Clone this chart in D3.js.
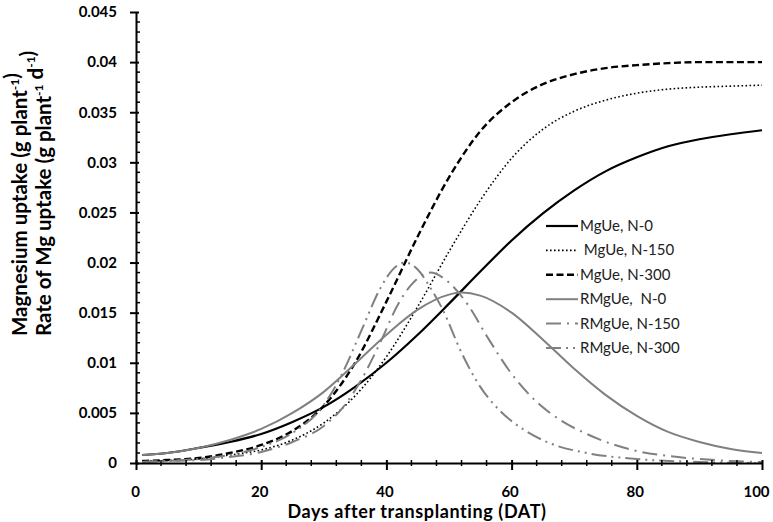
<!DOCTYPE html>
<html>
<head>
<meta charset="utf-8">
<script src="https://cdn.jsdelivr.net/npm/d3@7"></script>
<style>
  html, body { margin: 0; padding: 0; background: #fff; }
  svg { display: block; }
  text { font-family: Lato, "Open Sans", "Liberation Sans", sans-serif; }
</style>
</head>
<body>
<svg id="chart" width="773" height="522"></svg>
<script>
// Days after transplanting at which each curve is sampled
const daysUptake = [1, 5, 10, 15, 20, 25, 30, 35, 40, 45, 50, 55, 60, 65, 70, 75, 80, 85, 90, 95, 100];

// Cumulative Mg uptake (g plant-1)
const mgueN0   = [0.0008, 0.0010, 0.0015, 0.0021, 0.0029, 0.0041, 0.0056, 0.0076, 0.0100, 0.0128, 0.0159, 0.0191, 0.0222, 0.0249, 0.0272, 0.0291, 0.0305, 0.0316, 0.0323, 0.0328, 0.0332];
const mgueN150 = [0.0002, 0.00025, 0.0004, 0.0008, 0.0013, 0.0023, 0.0040, 0.0067, 0.0106, 0.0156, 0.0211, 0.0262, 0.0304, 0.0333, 0.0351, 0.0362, 0.0369, 0.0373, 0.0375, 0.0376, 0.0377];
const mgueN300 = [0.0002, 0.0003, 0.0005, 0.0010, 0.0018, 0.0032, 0.0057, 0.0100, 0.0161, 0.0226, 0.0285, 0.0331, 0.0360, 0.0378, 0.0388, 0.0394, 0.0397, 0.0399, 0.0400, 0.0400, 0.0400];

// Rate of Mg uptake (g plant-1 d-1)
const daysRateN0   = [1, 5, 10, 15, 20, 25, 30, 35, 40, 45, 50, 52, 55, 60, 65, 70, 75, 80, 85, 90, 95, 100];
const rmgueN0      = [0.0008, 0.0010, 0.0015, 0.0023, 0.0034, 0.0050, 0.0071, 0.0099, 0.0128, 0.0153, 0.0168, 0.0170, 0.0167, 0.0150, 0.0123, 0.0094, 0.0068, 0.0047, 0.0031, 0.0021, 0.0014, 0.0010];
const daysRateN150 = [1, 5, 10, 15, 20, 25, 30, 33, 36, 39, 42, 44, 47, 50, 53, 56, 60, 64, 68, 72, 76, 80, 85, 90, 95, 100];
const rmgueN150    = [0.0001, 0.0002, 0.0003, 0.0006, 0.0011, 0.0021, 0.0037, 0.0055, 0.0083, 0.0120, 0.0160, 0.0178, 0.0190, 0.0180, 0.0158, 0.0127, 0.0089, 0.0061, 0.0042, 0.0029, 0.0019, 0.0012, 0.0007, 0.0004, 0.0002, 0.0001];
const daysRateN300 = [1, 5, 10, 15, 20, 25, 30, 33, 36, 39, 41, 43, 45, 47, 49, 52, 55, 58, 62, 66, 72, 80, 90, 100];
const rmgueN300    = [0.0001, 0.0002, 0.0004, 0.0008, 0.0016, 0.0030, 0.0058, 0.0090, 0.0132, 0.0174, 0.0193, 0.0200, 0.0193, 0.0175, 0.0153, 0.0110, 0.0076, 0.0053, 0.0033, 0.0020, 0.0010, 0.0004, 0.0001, 0.0000];

// Axis ticks
const xTicks = [0, 20, 40, 60, 80, 100];
const yTicks = [0, 0.005, 0.01, 0.015, 0.02, 0.025, 0.03, 0.035, 0.04, 0.045];
const yTickLabels = ["0", "0.005", "0.01", "0.015", "0.02", "0.025", "0.03", "0.035", "0.04", "0.045"];

const seriesNames = ["MgUe, N-0", " MgUe, N-150", "MgUe, N-300", "RMgUe,  N-0", "RMgUe, N-150", "RMgUe, N-300"];

const svg = d3.select("#chart");
const x = d3.scaleLinear().domain([0, 100]).range([136, 762]);
const y = d3.scaleLinear().domain([0, 0.045]).range([463, 12]);

const gray = "#808080";
const series = [
  { name: seriesNames[0], days: daysUptake,   vals: mgueN0,   color: "#000", width: 2.2, dash: null },
  { name: seriesNames[1], days: daysUptake,   vals: mgueN150, color: "#000", width: 1.6, dash: "1.6,2.4" },
  { name: seriesNames[2], days: daysUptake,   vals: mgueN300, color: "#000", width: 2.4, dash: "7,3.5" },
  { name: seriesNames[3], days: daysRateN0,   vals: rmgueN0,  color: gray,   width: 2.0, dash: null },
  { name: seriesNames[4], days: daysRateN150, vals: rmgueN150, color: gray,  width: 2.0, dash: "15,6,2,6" },
  { name: seriesNames[5], days: daysRateN300, vals: rmgueN300, color: gray,  width: 2.0, dash: "15,5,2,5,2,5" }
];

// Minor ticks
const xMinor = d3.range(0, 101, 4).filter(d => d % 20 !== 0);
const yMinor = d3.range(0, 46).map(d => d / 1000).filter(d => Math.round(d * 1000) % 5 !== 0);

// Lines
const line = d3.line()
  .x(d => x(d[0]))
  .y(d => y(d[1]))
  .curve(d3.curveMonotoneX);

const plot = svg.append("g");
series.forEach(s => {
  plot.append("path")
    .datum(s.days.map((d, i) => [d, s.vals[i]]))
    .attr("fill", "none")
    .attr("stroke", s.color)
    .attr("stroke-width", s.width)
    .attr("stroke-dasharray", s.dash)
    .attr("d", line);
});

// X axis
const xAxis = svg.append("g").attr("transform", `translate(0,${y(0)})`)
  .call(d3.axisBottom(x).tickValues(xTicks).tickSize(7).tickSizeOuter(0).tickPadding(16).tickFormat(d3.format("d")));
xAxis.select(".domain").attr("stroke-width", 2);
xAxis.selectAll(".tick line").attr("stroke-width", 2).attr("y1", -3);
xAxis.selectAll(".tick text").attr("font-size", 15).attr("font-weight", "bold").attr("fill", "#000")
  .attr("dx", d => d === 100 ? -6 : (d === 0 ? -1 : -2));
svg.append("g").selectAll("line").data(xMinor).join("line")
  .attr("x1", d => x(d)).attr("x2", d => x(d))
  .attr("y1", y(0) - 3).attr("y2", y(0) + 3)
  .attr("stroke", "#000").attr("stroke-width", 1.5);

// Y axis
const yAxis = svg.append("g").attr("transform", `translate(${x(0)},0)`)
  .call(d3.axisLeft(y).tickValues(yTicks).tickSize(6).tickSizeOuter(0).tickPadding(13)
    .tickFormat((d, i) => yTickLabels[i]));
yAxis.select(".domain").attr("stroke-width", 2);
yAxis.selectAll(".tick line").attr("stroke-width", 2).attr("x2", -6).attr("x1", 3);
yAxis.selectAll(".tick text").attr("font-size", 15).attr("font-weight", "bold").attr("fill", "#000");
svg.append("g").selectAll("line").data(yMinor).join("line")
  .attr("x1", x(0)).attr("x2", x(0) + 4)
  .attr("y1", d => y(d)).attr("y2", d => y(d))
  .attr("stroke", "#000").attr("stroke-width", 1.5);

// Axis titles
svg.append("text")
  .attr("x", 417).attr("y", 518)
  .attr("text-anchor", "middle")
  .attr("font-size", 18).attr("font-weight", "bold")
  .attr("letter-spacing", 0.6)
  .text("Days after transplanting (DAT)");

function yTitle(xPos, parts) {
  const t = svg.append("text")
    .attr("transform", `translate(${xPos},336) rotate(-90)`)
    .attr("text-anchor", "start")
    .attr("font-size", 20.5).attr("font-weight", "bold");
  parts.forEach(p => {
    if (p.sup) {
      t.append("tspan").attr("font-size", 12).attr("dy", -8).text(p.t);
      t.append("tspan").attr("dy", 8).text("");
    } else {
      t.append("tspan").text(p.t);
    }
  });
}
yTitle(27, [{ t: "Magnesium uptake (g plant" }, { t: "-1", sup: true }, { t: ")" }]);
yTitle(51, [{ t: "Rate of Mg uptake (g plant" }, { t: "-1", sup: true }, { t: " d" }, { t: "-1", sup: true }, { t: ")" }]);

// Legend
const legend = svg.append("g");
series.forEach((s, i) => {
  const ly = 226 + i * 24.4;
  legend.append("line")
    .attr("x1", 546).attr("x2", 578).attr("y1", ly).attr("y2", ly)
    .attr("stroke", s.color).attr("stroke-width", s.width)
    .attr("stroke-dasharray", s.dash);
  legend.append("text")
    .attr("x", 580).attr("y", ly + 5)
    .attr("font-size", 15).attr("fill", "#222")
    .attr("xml:space", "preserve")
    .style("white-space", "pre")
    .text(s.name);
});
</script>
</body>
</html>
